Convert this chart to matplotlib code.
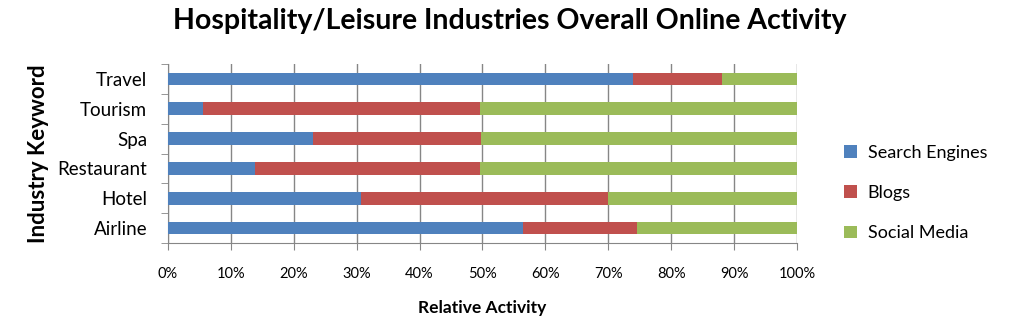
import matplotlib
matplotlib.use("Agg")
import matplotlib.pyplot as plt
import numpy as np

plt.rcParams['font.family'] = ['Lato', 'DejaVu Sans']

# data (percent of total activity)
keywords = ["Airline", "Hotel", "Restaurant", "Spa", "Tourism", "Travel"]
search_engines = [56.5, 30.7, 13.9, 23.1, 5.6, 74.0]
blogs = [18.0, 39.2, 35.7, 26.7, 44.0, 14.0]
social_media = [25.5, 30.1, 50.4, 50.2, 50.4, 12.0]

series_names = ["Search Engines", "Blogs", "Social Media"]
colors = ["#4F81BD", "#C0504D", "#9BBB59"]

fig = plt.figure(figsize=(10.2, 3.27), dpi=100)
ax = fig.add_axes([168/1020, 1 - 243/327, (797-168)/1020, (243-64)/327])

y = np.arange(len(keywords))
left = np.zeros(len(keywords))
for vals, name, c in zip([search_engines, blogs, social_media], series_names, colors):
    ax.barh(y, vals, left=left, height=0.42, color=c, label=name, zorder=3)
    left = left + np.array(vals)

ax.set_xlim(0, 100)
ax.set_ylim(-0.5, len(keywords) - 0.5)
ax.set_xticks(np.arange(0, 101, 10))
ax.set_xticklabels([f"{v}%" for v in range(0, 101, 10)], fontsize=10.5)
ax.set_yticks(y)
ax.set_yticklabels(keywords, fontsize=13.5)
ax.tick_params(axis='y', length=0, pad=15)
ax.set_yticks(np.arange(-0.5, len(keywords), 1), minor=True)
ax.tick_params(axis='y', which='minor', length=5, color='#868686')
ax.tick_params(axis='x', length=5, color='#868686', pad=12)

ax.grid(axis='x', color='#868686', linewidth=1, zorder=0)
for s in ['top', 'right']:
    ax.spines[s].set_visible(False)
ax.spines['left'].set_color('#868686')
ax.spines['bottom'].set_color('#868686')

ax.set_xlabel("Relative Activity", fontsize=12.5, fontweight='bold', labelpad=14)
ax.set_ylabel("Industry Keyword", fontsize=16, fontweight='bold', labelpad=6)

fig.suptitle("Hospitality/Leisure Industries Overall Online Activity",
             fontsize=20.5, fontweight='bold', x=0.5, y=0.975)

handles, labels = ax.get_legend_handles_labels()
fig.legend(handles, labels, loc='center left', bbox_to_anchor=(828/1020, 1 - 193/327),
           frameon=False, fontsize=13, handlelength=0.7, handleheight=0.7,
           labelspacing=1.35, handletextpad=0.6)

fig.savefig("out.png", dpi=100)
